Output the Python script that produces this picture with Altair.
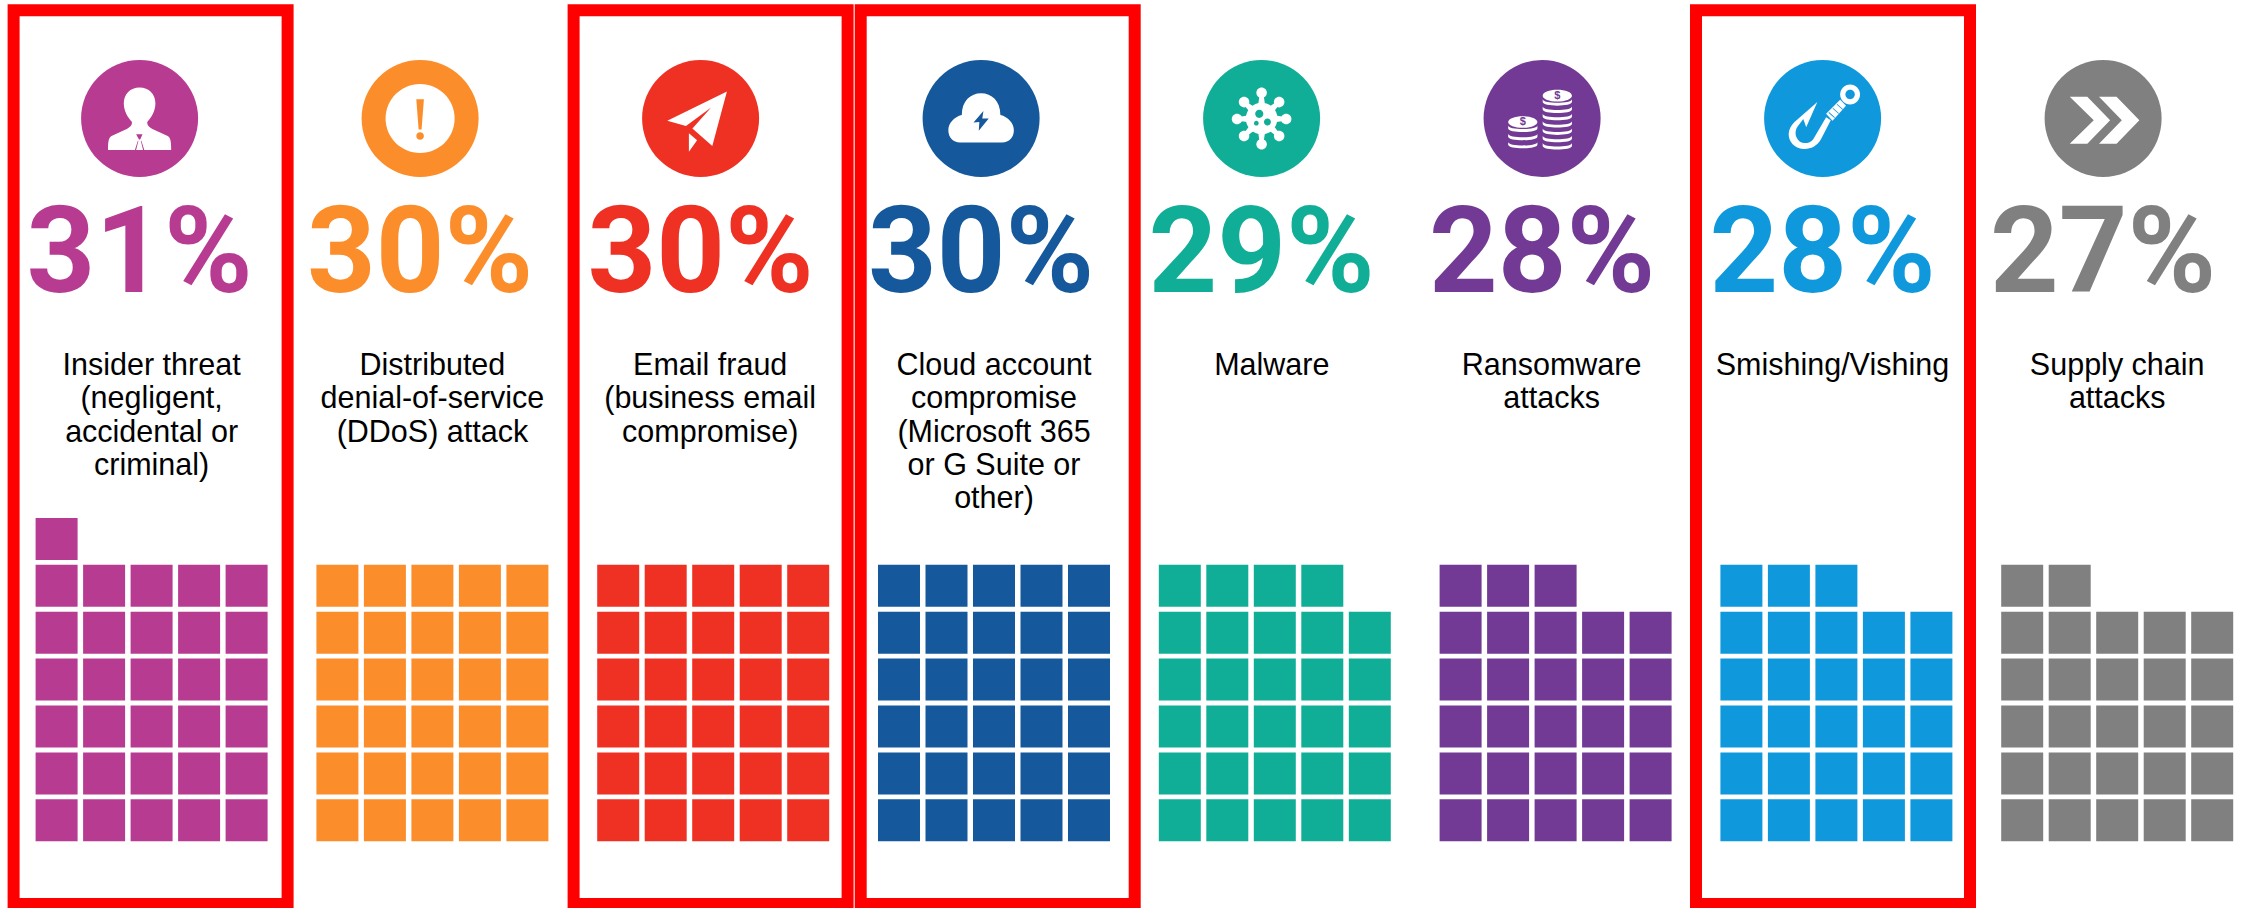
import re
import altair as alt
import pandas as pd

W, H = 2247, 908

# Survey results, one entry per threat
threats = [
    ["Insider threat", "(negligent,", "accidental or", "criminal)"],
    ["Distributed", "denial-of-service", "(DDoS) attack"],
    ["Email fraud", "(business email", "compromise)"],
    ["Cloud account", "compromise", "(Microsoft 365", "or G Suite or", "other)"],
    ["Malware"],
    ["Ransomware", "attacks"],
    ["Smishing/Vishing"],
    ["Supply  chain", "attacks"],
]
percents = [31, 30, 30, 30, 29, 28, 28, 27]
colors = ["#B83B92", "#FB8E2B", "#EF3124", "#15589B", "#11AE97", "#723A94", "#0F99DC", "#808080"]

# Panel layout, in pixels
ICON_STEP = 280.5
WAFFLE_STEP = 280.8
ICON_X0 = 139.6
WAFFLE_X0 = 35.6
CELL_W, CELL_H = 42, 42
STEP_X, STEP_Y = 47.5, 46.9
WAFFLE_BOTTOM = 841.3
ICON_Y = 118.5
ICON_R = 58.5
LABEL_BASE = 375
LABEL_STEP = 33.3
LABEL_NUDGE = [0, 0, -3, 0, -3, -4, -4, 0]
BIG_BASE = 292
FRAME_LEFTS = [7.6, 567.6, 854.7, 1690]
FRAME_W = 286
FRAME_STROKE = 12

x_px = alt.Scale(domain=[0, W], range=[0, W])
y_px = alt.Scale(domain=[H, 0])
X = lambda f: alt.X(f, type="quantitative", scale=x_px, axis=None)
Y = lambda f: alt.Y(f, type="quantitative", scale=y_px, axis=None)


def unit(path):
    """Rescale a path drawn on a +-100 grid to the symbol's +-1 square."""
    return re.sub(r"-?\d+\.?\d*", lambda m: f"{float(m.group()) / 100:.3f}", path)


def disc(cx, cy, r, ry=None):
    ry = r if ry is None else ry
    k, j = 0.5523 * r, 0.5523 * ry
    return (
        f"M{cx - r},{cy} C{cx - r},{cy - j} {cx - k},{cy - ry} {cx},{cy - ry} "
        f"C{cx + k},{cy - ry} {cx + r},{cy - j} {cx + r},{cy} "
        f"C{cx + r},{cy + j} {cx + k},{cy + ry} {cx},{cy + ry} "
        f"C{cx - k},{cy + ry} {cx - r},{cy + j} {cx - r},{cy} Z "
    )


def spike(tx, ty):
    # Tapered spike from the centre of the virus body out to a bulb
    n = (tx**2 + ty**2) ** 0.5
    ux, uy = -ty / n, tx / n
    a, b = 9, 3
    return (
        f"M{ux * a:.2f},{uy * a:.2f} L{tx + ux * b:.2f},{ty + uy * b:.2f} "
        f"L{tx - ux * b:.2f},{ty - uy * b:.2f} L{-ux * a:.2f},{-uy * a:.2f} Z"
    )


def coin_stack(cx, top, n, step):
    out = disc(cx, top, 25, 10)
    y = top + 6
    for _ in range(n):
        out += (
            f"M{cx - 25},{y} C{cx - 25},{y + 8} {cx + 25},{y + 8} {cx + 25},{y} "
            f"L{cx + 25},{y + 5} C{cx + 25},{y + 13} {cx - 25},{y + 13} {cx - 25},{y + 5} Z "
        )
        y += step
    return out


# Each icon is a list of (path, layer colour) drawn over the coloured disc
person = (
    "M0,-53 C16,-53 27,-42 27,-26 C27,-12 20,-2 13,6 C13,12 16,14 22,18 L48,30 "
    "C53,33 54,40 54,54 L-54,54 C-54,40 -53,33 -48,30 L-22,18 C-16,14 -13,12 -13,6 "
    "C-20,-2 -27,-12 -27,-26 C-27,-42 -16,-53 0,-53 Z"
)
tie = "M-6,27 L5,27 L1,36 L-1,36 Z M-8,54 L-3,38 L-2,38 L-6,54 Z M8,54 L3,38 L2,38 L6,54 Z"
bang = "M-6.5,-33 L6.5,-33 L2.5,19 L-2.5,19 Z " + disc(0, 30, 6.5)
plane = (
    "M45,-46 L-57,4 L-25,13 L18,-19 L-14,17 L20,47 Z "
    "M-20,25 L-6,37 L-20,57 Z"
)
cloud = (
    "M-36,41 C-48,41 -56,32 -56,20 C-56,8 -46,-3 -33,-6 C-33,-30 -18,-43 0,-43 "
    "C18,-43 33,-30 33,-6 C46,-3 56,8 56,20 C56,32 48,41 36,41 Z"
)
bolt = "M4,-13 L-13,7 L-3,6 L-4,21 L13,0 L2,0 Z"
virus_tips = [(0, -44), (-30, -28), (30, -28), (-42, 1), (42, 1), (-30, 30), (30, 30), (0, 44)]
virus_parts = [disc(0, 0, 27)] + [spike(x, y) for x, y in virus_tips] + [disc(x, y, 9) for x, y in virus_tips]
virus_dots = disc(-4, -8, 7) + disc(10, 6, 6) + disc(-9, 8, 4)
coins = coin_stack(26, -39, 7, 12.5) + coin_stack(-33, 6, 3, 14)
hook = (
    "M-9,-28 L-28,15 L-33,1 L-43,14 C-47,20 -47,28 -44,33 C-41,40 -35,42 -30,42 "
    "C-22,42 -17,38 -14,32 L6,-2 L14,3 L-3,36 C-10,48 -22,53 -33,52 "
    "C-48,51 -58,40 -58,27 C-58,19 -54,12 -48,6 Z"
)
hook_wrap = "M6,-8 L30,-32 L40,-22 L17,4 Z"
hook_lines = (
    "M10,-10 L20,-1 L21,-2 L11,-11 Z M17,-17 L27,-8 L28,-9 L18,-18 Z M24,-24 L34,-15 L35,-16 L25,-25 Z"
)
chevrons = (
    "M-57,-37 L-27,-37 L12,3 L-27,43 L-57,43 L-16,3 Z "
    "M-7,-37 L23,-37 L62,3 L23,43 L-7,43 L32,3 Z"
)

icons = [
    [(person, "white"), (tie, colors[0])],
    [(disc(0, 0, 59), "white"), (bang, colors[1])],
    [(plane, "white")],
    [(cloud, "white"), (bolt, colors[3])],
    [(p, "white") for p in virus_parts] + [(virus_dots, colors[4])],
    [(coins, "white")],
    [
        (hook, "white"), (hook_wrap, "white"), (hook_lines, colors[6]),
        (disc(47, -41, 17), "white"), (disc(47, -41, 8), colors[6]),
    ],
    [(chevrons, "white")],
]

# Waffle cells: one square per percentage point, filled bottom-up in columns of five
cells = []
for i, (pct, col) in enumerate(zip(percents, colors)):
    q, r = divmod(pct, 5)
    for c in range(5):
        for row in range(q + 1 if c < r else q):
            left = WAFFLE_X0 + i * WAFFLE_STEP + c * STEP_X
            bottom = WAFFLE_BOTTOM - row * STEP_Y
            cells.append(dict(x=left, x2=left + CELL_W, y=bottom, y2=bottom - CELL_H, color=col))

labels = []
for i, lines in enumerate(threats):
    for n, line in enumerate(lines):
        labels.append(dict(
            x=WAFFLE_X0 + (4 * STEP_X + CELL_W) / 2 + i * WAFFLE_STEP + LABEL_NUDGE[i],
            y=LABEL_BASE + n * LABEL_STEP,
            text=line,
        ))

big = [
    dict(x=ICON_X0 + i * ICON_STEP, y=BIG_BASE, text=f"{p}%", color=c)
    for i, (p, c) in enumerate(zip(percents, colors))
]
discs = [dict(x=ICON_X0 + i * ICON_STEP, y=ICON_Y, color=c) for i, c in enumerate(colors)]
glyphs = [
    dict(x=ICON_X0 + i * ICON_STEP, y=ICON_Y, shape=unit(path), color=col)
    for i, parts in enumerate(icons)
    for path, col in parts
]
coin_marks = [
    dict(x=ICON_X0 + 5 * ICON_STEP + dx * ICON_R / 100, y=ICON_Y + dy * ICON_R / 100, text="$")
    for dx, dy in [(26, -39), (-33, 6)]
]
half = FRAME_STROKE / 2
frames = [
    dict(x=left + half, x2=left + FRAME_W - half, y=4.3 + half, y2=904)
    for left in FRAME_LEFTS
]

size = (2 * ICON_R) ** 2

layers = [
    alt.Chart(pd.DataFrame(frames)).mark_rect(fillOpacity=0, stroke="#FF0000", strokeWidth=FRAME_STROKE).encode(
        x=X("x"), x2="x2", y=Y("y"), y2="y2"
    ),
    alt.Chart(pd.DataFrame(cells)).mark_rect().encode(
        x=X("x"), x2="x2", y=Y("y"), y2="y2", color=alt.Color("color:N", scale=None)
    ),
    alt.Chart(pd.DataFrame(discs)).mark_point(filled=True, opacity=1, shape="circle", size=size).encode(
        x=X("x"), y=Y("y"), color=alt.Color("color:N", scale=None)
    ),
    alt.Chart(pd.DataFrame(glyphs)).mark_point(filled=True, opacity=1, size=size).encode(
        x=X("x"), y=Y("y"),
        shape=alt.Shape("shape:N", scale=None),
        color=alt.Color("color:N", scale=None),
        order=alt.Order("idx:Q"),
    ).transform_window(idx="row_number()"),
    alt.Chart(pd.DataFrame(coin_marks)).mark_text(
        font="Liberation Sans", fontSize=11, fontWeight="bold", color=colors[5]
    ).encode(x=X("x"), y=Y("y"), text="text:N"),
    alt.Chart(pd.DataFrame(big)).mark_text(
        font="Roboto", fontSize=120, fontWeight="bold", align="center", baseline="alphabetic"
    ).encode(x=X("x"), y=Y("y"), text="text:N", color=alt.Color("color:N", scale=None)),
    alt.Chart(pd.DataFrame(labels)).mark_text(
        font="Liberation Sans", fontSize=30.5, color="#000000", align="center", baseline="alphabetic"
    ).encode(x=X("x"), y=Y("y"), text="text:N"),
]

chart = (
    alt.layer(*layers)
    .properties(width=W, height=H, padding=0, background="white", autosize=alt.AutoSizeParams(type="none"))
    .configure_view(stroke=None)
)

chart.save("out.html", embed_options={"renderer": "svg", "actions": False})
